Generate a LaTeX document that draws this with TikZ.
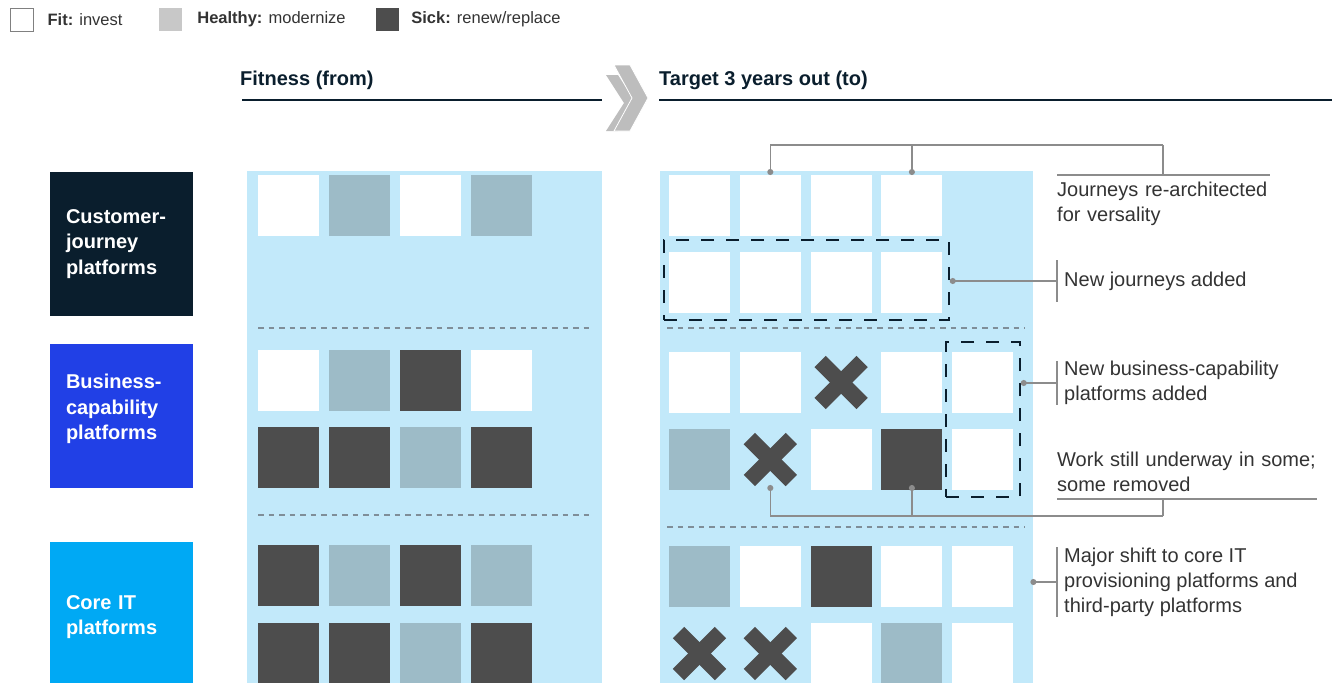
\documentclass[tikz,border=0pt]{standalone}
\usepackage{fontspec}
\setmainfont{Liberation Sans}
\usetikzlibrary{arrows.meta,positioning,calc}
\definecolor{navy}{HTML}{0A1E2D}
\definecolor{bizblue}{HTML}{2140E6}
\definecolor{corecyan}{HTML}{00A9F4}
\definecolor{panelblue}{HTML}{C2E9FA}
\definecolor{healthyblue}{HTML}{9DBBC7}
\definecolor{sickgray}{HTML}{4D4D4D}
\definecolor{keygray}{HTML}{C8C8C8}
\definecolor{linegray}{HTML}{8C8C8C}
\definecolor{sepgray}{HTML}{7F8E98}
\definecolor{notetext}{HTML}{333333}
\definecolor{chevgray}{HTML}{BDBDBD}
\tikzset{
    tile/.style={minimum size=61pt, inner sep=0pt, outer sep=0pt},
    fitsq/.style={tile, fill=white},
    okay/.style={tile, fill=healthyblue},
    sick/.style={tile, fill=sickgray},
    gone/.style={tile, path picture={
        \draw[sickgray, line width=16pt]
            ([shift={(-21pt,-21pt)}]path picture bounding box.center) --
            ([shift={(21pt,21pt)}]path picture bounding box.center);
        \draw[sickgray, line width=16pt]
            ([shift={(-21pt,21pt)}]path picture bounding box.center) --
            ([shift={(21pt,-21pt)}]path picture bounding box.center);}},
    panel/.style={fill=panelblue, inner sep=0pt, anchor=north west},
    rowbox/.style={minimum width=143pt, minimum height=144pt, text width=111pt,
        inner xsep=16pt, align=left, text=white,
        font=\bfseries\fontsize{20}{25.5}\selectfont},
    head/.style={text=navy, inner sep=0pt, anchor=base west,
        font=\bfseries\fontsize{20}{24}\selectfont},
    headrule/.style={draw=navy, line width=1.3pt},
    keysq/.style={minimum size=23pt, inner sep=0pt},
    keytext/.style={text=notetext, inner sep=0pt,
        font=\fontsize{16.5}{20}\selectfont},
    note/.style={text=notetext, inner xsep=0pt, align=left,
        font=\fontsize{20}{25}\selectfont},
    barnote/.style={note, inner xsep=7pt, inner ysep=0pt, anchor=west},
    callout/.style={draw=linegray, line width=1.2pt},
    dotted/.style={callout, {Circle[length=6pt]}-},
    dashbox/.style={draw=navy, line width=1.5pt, dash pattern=on 13pt off 12pt,
        inner sep=0pt},
    sep/.style={draw=sepgray, line width=2pt, dash pattern=on 5.5pt off 5pt}
}
\begin{document}
\begin{tikzpicture}[x=1pt, y=-1pt]
\useasboundingbox (0,0) rectangle (1334,683);
\clip (0,0) rectangle (1334,683);

% legend
\node[keysq, fill=white, draw=gray, line width=0.8pt] (key-fit) at (21.5,19.5) {};
\node[keytext, right=14pt of key-fit] (key-fit-t) {\textbf{Fit:} invest};
\node[keysq, fill=keygray] (key-ok) at (170.5,19.5) {};
\node[keytext, right=15pt of key-ok] (key-ok-t) {\textbf{Healthy:} modernize};
\node[keysq, fill=sickgray] (key-sick) at (387.5,19.5) {};
\node[keytext, right=12pt of key-sick] (key-sick-t) {\textbf{Sick:} renew/replace};

% headers
\node[head] (from-head) at (240,85) {Fitness (from)};
\node[head] (to-head) at (659,85) {Target 3 years out (to)};
\draw[headrule] (242,100) -- (602,100);
\draw[headrule] (659,100) -- (1332,100);
\fill[chevgray] (606,75) -- (618,75) -- (636,103) -- (618,131) -- (606,131) -- (624,103) -- cycle;
\filldraw[fill=chevgray, draw=white, line width=0.8pt]
    (614,65) -- (630,65) -- (648,98) -- (630,131) -- (614,131) -- (632,98) -- cycle;

% row labels
\node[rowbox, fill=navy] (cj-box) at (121.5,244) {Customer-\\journey\\platforms};
\node[rowbox, fill=bizblue, text depth=69pt] (bc-box) at (121.5,416) {Business-\\capability\\platforms};
\node[rowbox, fill=corecyan, minimum height=150pt] (core-box) at (121.5,617) {Core IT\\platforms};

% panels
\node[panel, minimum width=355pt, minimum height=520pt] (L-panel) at (247,171) {};
\node[panel, minimum width=373pt, minimum height=520pt] (R-panel) at (660,171) {};
\draw[sep] (258,328) -- (592,328);
\draw[sep] (258,515) -- (592,515);
\draw[sep] (667,328) -- (1025,328);
\draw[sep] (667,527) -- (1025,527);

% fitness (from)
\foreach \t [count=\i] in {fitsq,okay,fitsq,okay}
    \node[\t] (L1-\i) at ({288.5+71*(\i-1)},205) {};
\foreach \t [count=\i] in {fitsq,okay,sick,fitsq}
    \node[\t] (L2-\i) at ({288.5+71*(\i-1)},380.5) {};
\foreach \t [count=\i] in {sick,sick,okay,sick}
    \node[\t] (L3-\i) at ({288.5+71*(\i-1)},457.5) {};
\foreach \t [count=\i] in {sick,okay,sick,okay}
    \node[\t] (L4-\i) at ({288.5+71*(\i-1)},575.5) {};
\foreach \t [count=\i] in {sick,sick,okay,sick}
    \node[\t] (L5-\i) at ({288.5+71*(\i-1)},653.5) {};

% target (to)
\foreach \t [count=\i] in {fitsq,fitsq,fitsq,fitsq}
    \node[\t] (R1-\i) at ({699.5+70.8*(\i-1)},205.5) {};
\foreach \t [count=\i] in {fitsq,fitsq,fitsq,fitsq}
    \node[\t] (R2-\i) at ({699.5+70.8*(\i-1)},282.5) {};
\foreach \t [count=\i] in {fitsq,fitsq,gone,fitsq,fitsq}
    \node[\t] (R3-\i) at ({699.5+70.8*(\i-1)},382.5) {};
\foreach \t [count=\i] in {okay,gone,fitsq,sick,fitsq}
    \node[\t] (R4-\i) at ({699.5+70.8*(\i-1)},459.5) {};
\foreach \t [count=\i] in {okay,fitsq,sick,fitsq,fitsq}
    \node[\t] (R5-\i) at ({699.5+70.8*(\i-1)},576.5) {};
\foreach \t [count=\i] in {gone,gone,fitsq,okay,fitsq}
    \node[\t] (R6-\i) at ({699.5+70.8*(\i-1)},653.5) {};

\node[dashbox, minimum width=285pt, minimum height=80pt] (nj-box) at (806.5,280) {};
\node[dashbox, minimum width=74pt, minimum height=155pt] (nb-box) at (983,419.5) {};

% notes
\node[note, inner ysep=7pt, text width=213pt, anchor=north west] (jr-note) at (1057,175)
    {Journeys re-architected\\for versality};
\draw[callout] (jr-note.north west) -- (jr-note.north east);
\coordinate (jr-knee) at (1163,145);
\draw[dotted] (R1-2.north) |- (jr-knee);
\draw[dotted] (R1-4.north) -- (R1-4.north |- jr-knee);
\draw[callout] (jr-knee) -- (jr-knee |- jr-note.north);

\node[barnote, inner ysep=11pt] (nj-note) at (1057,281) {New journeys added};
\draw[callout] (nj-note.north west) -- (nj-note.south west);
\draw[dotted] (nj-note.west -| nj-box.east) -- (nj-note.west);

\node[barnote] (nb-note) at (1057,383) {New business-capability\\platforms added};
\draw[callout] (nb-note.north west) -- (nb-note.south west);
\draw[dotted] (nb-note.west -| nb-box.east) -- (nb-note.west);

\node[note, inner ysep=7pt, text width=260pt, anchor=south west] (wk-note) at (1057,499)
    {Work still underway in some;\\some removed};
\draw[callout] (wk-note.south west) -- (wk-note.south east);
\coordinate (wk-knee) at (1163,516);
\coordinate (wk-a) at ([yshift=5pt]R4-2.south);
\coordinate (wk-b) at ([yshift=5pt]R4-4.south);
\draw[dotted] (wk-a) |- (wk-knee);
\draw[dotted] (wk-b) -- (wk-b |- wk-knee);
\draw[callout] (wk-knee) -- (wk-knee |- wk-note.south);

\node[barnote] (mj-note) at (1057,582)
    {Major shift to core IT\\provisioning platforms and\\third-party platforms};
\draw[callout] (mj-note.north west) -- (mj-note.south west);
\draw[dotted] ([xshift=-3pt]mj-note.west -| R-panel.east) -- (mj-note.west);
\end{tikzpicture}
\end{document}
